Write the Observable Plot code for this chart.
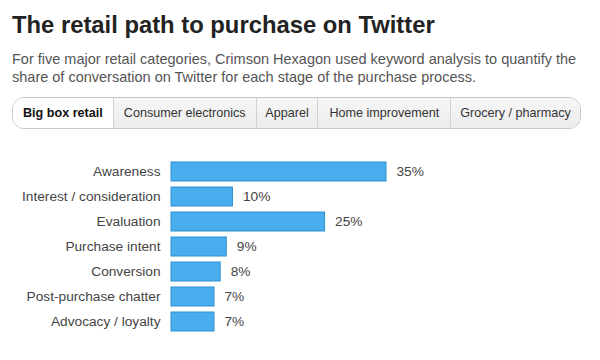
<!DOCTYPE html>
<html>
<head>
<meta charset="utf-8">
<script src="https://cdn.jsdelivr.net/npm/d3@7"></script>
<script src="https://cdn.jsdelivr.net/npm/@observablehq/plot@0.6"></script>
<style>
  html, body { margin: 0; padding: 0; background: #fff; }
  body { width: 600px; height: 360px; position: relative; overflow: hidden; font-family: "Liberation Sans", Arial, Helvetica, sans-serif; }
  #title { position: absolute; left: 12px; top: 11px; font-size: 23.8px; line-height: 27px; font-weight: bold; color: #222; white-space: nowrap; }
  #subtitle { position: absolute; left: 12px; top: 51px; width: 590px; font-size: 14.5px; line-height: 17.5px; color: #555; }
  #tabs { position: absolute; left: 12px; top: 97px; width: 567px; height: 30px; border: 1px solid #c8c8c8; border-radius: 12px; overflow: hidden; display: flex; background: #f1f1f1; }
  .tab { height: 30px; line-height: 30px; font-size: 12.6px; color: #333; text-align: center; border-left: 1px solid #d2d2d2; box-sizing: border-box; background: linear-gradient(#f7f7f7, #ececec); }
  .tab.active { background: #fff; font-weight: bold; color: #111; border-left: none; }
  #chart { position: absolute; left: 0; top: 150px; }
</style>
</head>
<body>
<div id="title">The retail path to purchase on Twitter</div>
<div id="subtitle">For five major retail categories, Crimson Hexagon used keyword analysis to quantify the share of conversation on Twitter for each stage of the purchase process.</div>
<div id="tabs"></div>
<div id="chart"></div>
<script>
const tabs = ["Big box retail", "Consumer electronics", "Apparel", "Home improvement", "Grocery / pharmacy"];
const tabWidths = [100, 143, 62, 133, 130];
const stages = ["Awareness", "Interest / consideration", "Evaluation", "Purchase intent", "Conversion", "Post-purchase chatter", "Advocacy / loyalty"];
const shares = [35, 10, 25, 9, 8, 7, 7];

const tabsEl = document.getElementById("tabs");
tabs.forEach((t, i) => {
  const d = document.createElement("div");
  d.className = "tab" + (i === 0 ? " active" : "");
  d.style.width = tabWidths[i] + "px";
  d.textContent = t;
  tabsEl.appendChild(d);
});

const data = stages.map((s, i) => ({stage: s, share: shares[i]}));

const chart = Plot.plot({
  width: 600,
  height: 190,
  marginLeft: 171,
  marginRight: 214,
  marginTop: 5,
  marginBottom: 3,
  style: {fontFamily: "'Liberation Sans', Arial, Helvetica, sans-serif", fontSize: "13.7px", color: "#444", background: "transparent"},
  x: {domain: [0, 35], axis: null},
  y: {domain: stages, padding: 0.24, label: null, tickSize: 0, tickPadding: 11, tickFormat: d => d},
  marks: [
    Plot.barX(data, {x: "share", y: "stage", fill: "#4aaeee", stroke: "#2f8fcf", strokeWidth: 1}),
    Plot.text(data, {x: "share", y: "stage", text: d => d.share + "%", textAnchor: "start", dx: 10, fill: "#444", fontSize: 13.7})
  ]
});
document.getElementById("chart").appendChild(chart);
</script>
</body>
</html>
